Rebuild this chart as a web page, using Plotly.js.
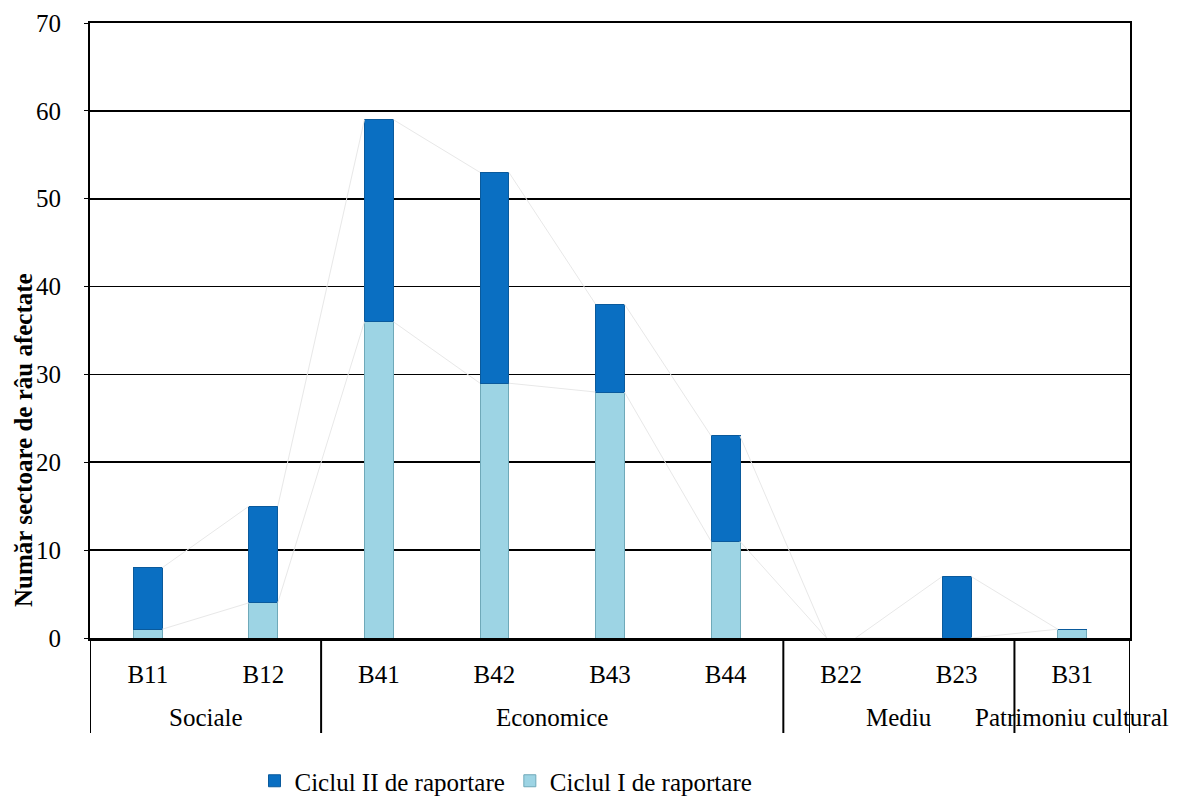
<!DOCTYPE html>
<html>
<head>
<meta charset="utf-8">
<script src="https://cdn.plot.ly/plotly-3.0.1.min.js"></script>
<style>html,body{margin:0;padding:0;background:#fff}#chart{width:1177px;height:796px}</style>
</head>
<body>
<div id="chart"></div>
<script>
// Data
const categories = ['B11','B12','B41','B42','B43','B44','B22','B23','B31'];
const groups = ['Sociale','Economice','Mediu','Patrimoniu cultural'];
const groupSizes = [2, 4, 2, 1];
const ciclulI = [1, 4, 36, 29, 28, 11, 0, 0, 1];
const ciclulII = [7, 11, 23, 24, 10, 12, 0, 7, 0];
const yTicks = [0, 10, 20, 30, 40, 50, 60, 70];
const yTitle = 'Număr sectoare de râu afectate';

const FONT = 'Liberation Serif';
const FS = 25;
const barW = 0.25;
const xIdx = categories.map((c, i) => i);
const totals = ciclulI.map((v, i) => v + ciclulII[i]);

// Series lines (connect stacked segment tops between adjacent bars)
function seriesLine(vals) {
  const xs = [], ys = [];
  for (let i = 0; i < vals.length - 1; i++) {
    xs.push(i + barW / 2, i + 1 - barW / 2, null);
    ys.push(vals[i], vals[i + 1], null);
  }
  return {x: xs, y: ys, type: 'scatter', mode: 'lines', showlegend: false, hoverinfo: 'skip',
    line: {color: '#e8e8e8', width: 1}, cliponaxis: false};
}

const traces = [
  {x: xIdx, y: ciclulI, type: 'bar', name: 'Ciclul I de raportare', width: barW,
   marker: {color: '#9dd4e4', line: {color: '#6fa9b9', width: 1}}},
  {x: xIdx, y: ciclulII, type: 'bar', name: 'Ciclul II de raportare', width: barW,
   marker: {color: '#0a6fc2', line: {color: '#0a5a9c', width: 1}}},
  seriesLine(ciclulI),
  seriesLine(totals)
];

// Group boundaries and labels
const plotL = 90, plotR = 1130, plotTop = 23, plotBot = 638, plotH = plotBot - plotTop;
const pY = px => (plotBot - px) / plotH;
const pX = px => (px - plotL) / (plotR - plotL);
const shapes = [];
const annotations = [];
let start = 0;
const bounds = [-0.5];
groupSizes.forEach((n, g) => {
  const end = start + n;
  bounds.push(end - 0.5);
  annotations.push({x: start + (n - 1) / 2, y: pY(717), xref: 'x', yref: 'paper', text: groups[g],
    showarrow: false, xanchor: 'center', yanchor: 'middle', font: {family: FONT, size: FS, color: '#000'}});
  start = end;
});
bounds.forEach(b => {
  shapes.push({type: 'line', xref: 'x', yref: 'paper', x0: b, x1: b, y0: 0, y1: pY(733),
    line: {color: '#000', width: 2}});
});
// y-axis title (positioned as in the reference)
annotations.push({x: pX(24), y: pY(440), xref: 'paper', yref: 'paper', text: '<b>' + yTitle + '</b>',
  textangle: -90, showarrow: false, xanchor: 'center', yanchor: 'middle',
  font: {family: FONT, size: FS, color: '#000'}});

const layout = {
  width: 1177, height: 796,
  margin: {l: plotL, r: 1177 - plotR, t: plotTop, b: 796 - plotBot, autoexpand: false},
  paper_bgcolor: '#fff', plot_bgcolor: '#fff',
  barmode: 'stack',
  font: {family: FONT, size: FS, color: '#000'},
  xaxis: {
    range: [-0.5, categories.length - 0.5],
    tickvals: xIdx, ticktext: categories,
    showgrid: false, zeroline: false,
    showline: true, linecolor: '#000', linewidth: 2.5, mirror: true,
    ticks: '', ticklabelstandoff: 12,
    tickfont: {family: FONT, size: FS, color: '#000'},
    fixedrange: true, automargin: false
  },
  yaxis: {
    range: [0, 70], tickvals: yTicks,
    showgrid: true, gridcolor: '#000', gridwidth: 1.6,
    zeroline: false,
    showline: true, linecolor: '#000', linewidth: 2, mirror: true,
    ticks: 'outside', ticklen: 4, tickcolor: '#000',
    ticklabelstandoff: 18,
    tickfont: {family: FONT, size: FS, color: '#000'},
    fixedrange: true, automargin: false
  },
  legend: {
    orientation: 'h', x: 0.40, xanchor: 'center', y: pY(781), yanchor: 'middle',
    traceorder: 'reversed', font: {family: FONT, size: FS, color: '#000'},
    itemwidth: 30, tracegroupgap: 0
  },
  shapes: shapes,
  annotations: annotations,
  showlegend: true
};

Plotly.newPlot('chart', traces, layout, {displayModeBar: false, staticPlot: true});
</script>
</body>
</html>
